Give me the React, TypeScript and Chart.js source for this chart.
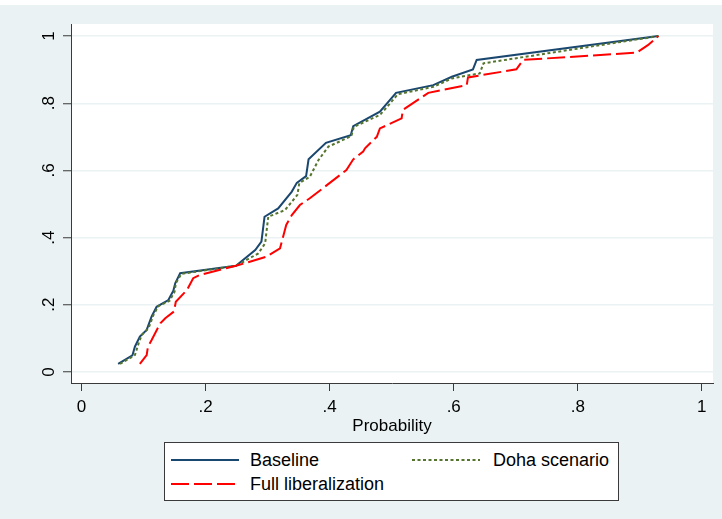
import React, { useEffect, useRef } from "react";
import { Chart, registerables } from "chart.js";

Chart.register(...registerables);

// ---- data ----
const seriesNames = ["Baseline", "Doha scenario", "Full liberalization"];
const xTitle = "Probability";
const xTicks = [0, 0.2, 0.4, 0.6, 0.8, 1];
const yTicks = [0, 0.2, 0.4, 0.6, 0.8, 1];

const baselineX = [0.059, 0.082, 0.086, 0.094, 0.105, 0.113, 0.121, 0.140, 0.148, 0.151, 0.159, 0.249, 0.280, 0.290, 0.295, 0.317, 0.339, 0.347, 0.362, 0.366, 0.394, 0.434, 0.438, 0.481, 0.507, 0.567, 0.597, 0.631, 0.637, 0.930];
const baselineY = [0.024, 0.049, 0.075, 0.105, 0.125, 0.165, 0.194, 0.214, 0.242, 0.264, 0.294, 0.316, 0.363, 0.388, 0.462, 0.487, 0.537, 0.563, 0.583, 0.633, 0.682, 0.705, 0.732, 0.775, 0.831, 0.854, 0.879, 0.901, 0.929, 1.0];

const dohaX = [0.062, 0.086, 0.092, 0.097, 0.108, 0.116, 0.124, 0.142, 0.150, 0.152, 0.161, 0.249, 0.261, 0.285, 0.296, 0.301, 0.328, 0.348, 0.351, 0.368, 0.382, 0.398, 0.435, 0.439, 0.481, 0.492, 0.510, 0.567, 0.597, 0.642, 0.648, 0.930];
const dohaY = [0.024, 0.050, 0.085, 0.110, 0.130, 0.170, 0.196, 0.212, 0.239, 0.264, 0.292, 0.316, 0.328, 0.353, 0.383, 0.462, 0.482, 0.527, 0.562, 0.581, 0.631, 0.671, 0.702, 0.730, 0.765, 0.788, 0.827, 0.849, 0.874, 0.889, 0.919, 1.0];

const fullX = [0.094, 0.105, 0.107, 0.113, 0.127, 0.135, 0.149, 0.152, 0.170, 0.180, 0.191, 0.249, 0.298, 0.320, 0.330, 0.339, 0.352, 0.368, 0.427, 0.438, 0.454, 0.457, 0.476, 0.481, 0.516, 0.518, 0.559, 0.621, 0.623, 0.701, 0.712, 0.895, 0.913, 0.930];
const fullY = [0.024, 0.050, 0.075, 0.095, 0.145, 0.160, 0.180, 0.209, 0.244, 0.279, 0.289, 0.316, 0.343, 0.368, 0.4375, 0.467, 0.497, 0.517, 0.601, 0.633, 0.656, 0.666, 0.700, 0.725, 0.755, 0.780, 0.831, 0.854, 0.877, 0.901, 0.929, 0.951, 0.973, 1.0];

// ---- styles ----
const NAVY = "#1a476f";
const GREEN = "#55752f";
const RED = "#ff0000";
const BG = "#eaf2f3";
const AXIS = "#3a3a3a";
const FONT = "'Liberation Sans', Arial, Helvetica, sans-serif";

const DOT_DASH = [3, 2.5];
const LONG_DASH = [18, 5];

function fmt(v: number): string {
  const r = Math.round(v * 10) / 10;
  if (r === 0) return "0";
  if (r === 1) return "1";
  return String(r).replace(/^0/, "");
}

function pts(xs: number[], ys: number[]) {
  return xs.map((x, i) => ({ x, y: ys[i] }));
}

const plotBg = {
  id: "plotBg",
  beforeDraw(chart: any) {
    const { ctx, chartArea } = chart;
    if (!chartArea) return;
    ctx.save();
    ctx.fillStyle = "#ffffff";
    ctx.fillRect(chartArea.left, chartArea.top, chartArea.right - chartArea.left, chartArea.bottom - chartArea.top);
    ctx.restore();
  },
};

function LegendLine({ color, dash }: { color: string; dash?: number[] }) {
  return (
    <svg width={68} height={4} style={{ display: "block" }}>
      <line x1={0} y1={2} x2={68} y2={2} stroke={color} strokeWidth={2} strokeDasharray={dash ? dash.join(" ") : undefined} />
    </svg>
  );
}

export default function App() {
  const ref = useRef<HTMLCanvasElement | null>(null);

  useEffect(() => {
    if (!ref.current) return;
    Chart.defaults.font.family = FONT;
    const chart = new Chart(ref.current, {
      type: "scatter",
      data: {
        datasets: [
          {
            label: seriesNames[0],
            data: pts(baselineX, baselineY),
            showLine: true,
            borderColor: NAVY,
            backgroundColor: NAVY,
            borderWidth: 2,
            pointRadius: 0,
            tension: 0,
            order: 3,
          },
          {
            label: seriesNames[1],
            data: pts(dohaX, dohaY),
            showLine: true,
            borderColor: GREEN,
            backgroundColor: GREEN,
            borderWidth: 2,
            borderDash: DOT_DASH,
            pointRadius: 0,
            tension: 0,
            order: 2,
          },
          {
            label: seriesNames[2],
            data: pts(fullX, fullY),
            showLine: true,
            borderColor: RED,
            backgroundColor: RED,
            borderWidth: 2,
            borderDash: LONG_DASH,
            pointRadius: 0,
            tension: 0,
            order: 1,
          },
        ],
      },
      options: {
        animation: false,
        responsive: false,
        devicePixelRatio: 1,
        events: [],
        layout: { padding: { left: 0, right: 9, top: 19, bottom: 0 } },
        plugins: {
          legend: { display: false },
          tooltip: { enabled: false },
        },
        scales: {
          x: {
            type: "linear",
            min: -0.017,
            max: 1.018,
            afterBuildTicks: (s: any) => {
              s.ticks = xTicks.map((v) => ({ value: v }));
            },
            afterFit: (s: any) => {
              s.height = 136;
            },
            ticks: {
              autoSkip: false,
              maxRotation: 0,
              minRotation: 0,
              padding: 6,
              color: "#000",
              font: { size: 17 },
              callback: (v: any) => fmt(Number(v)),
            },
            grid: {
              display: true,
              drawOnChartArea: false,
              drawTicks: true,
              tickLength: 8,
              tickColor: AXIS,
              tickWidth: 1,
            },
            border: { display: true, color: AXIS, width: 1 },
            title: {
              display: true,
              text: xTitle,
              color: "#000",
              font: { size: 17 },
              padding: { top: 0, bottom: 82 },
            },
          },
          y: {
            type: "linear",
            min: -0.033,
            max: 1.036,
            afterBuildTicks: (s: any) => {
              s.ticks = yTicks.map((v) => ({ value: v }));
            },
            afterFit: (s: any) => {
              s.width = 71;
            },
            ticks: {
              autoSkip: false,
              minRotation: 90,
              maxRotation: 90,
              crossAlign: "center",
              padding: 7,
              color: "#000",
              font: { size: 17 },
              callback: (v: any) => fmt(Number(v)),
            },
            grid: {
              display: true,
              drawOnChartArea: true,
              color: BG,
              lineWidth: 1.5,
              drawTicks: true,
              tickLength: 8,
              tickColor: AXIS,
              tickWidth: 1,
            },
            border: { display: true, color: AXIS, width: 1 },
          },
        },
      },
      plugins: [plotBg],
    } as any);
    return () => chart.destroy();
  }, []);

  const boxLeft = 164;
  const boxTop = 442;

  return (
    <div style={{ position: "fixed", left: 0, top: 0, width: 722, height: 519, background: "#ffffff", overflow: "hidden" }}>
      <div style={{ position: "absolute", left: 0, top: 5, width: 722, height: 514, background: BG }}>
        <canvas ref={ref} width={722} height={514} style={{ display: "block", width: 722, height: 514 }} />
      </div>
      <div
        style={{
          position: "absolute",
          left: boxLeft,
          top: boxTop,
          width: 455,
          height: 59,
          boxSizing: "border-box",
          border: `1px solid ${AXIS}`,
          background: "#ffffff",
          fontFamily: FONT,
          fontSize: 18,
          color: "#000",
        }}
      >
        <div style={{ position: "absolute", left: 171 - boxLeft - 1, top: 460 - boxTop - 3 }}>
          <LegendLine color={NAVY} />
        </div>
        <div style={{ position: "absolute", left: 250 - boxLeft - 1, top: 460 - boxTop - 11, lineHeight: "20px", whiteSpace: "nowrap" }}>
          {seriesNames[0]}
        </div>
        <div style={{ position: "absolute", left: 412 - boxLeft - 1, top: 460 - boxTop - 3 }}>
          <LegendLine color={GREEN} dash={DOT_DASH} />
        </div>
        <div style={{ position: "absolute", left: 493 - boxLeft - 1, top: 460 - boxTop - 11, lineHeight: "20px", whiteSpace: "nowrap" }}>
          {seriesNames[1]}
        </div>
        <div style={{ position: "absolute", left: 171 - boxLeft - 1, top: 484 - boxTop - 3 }}>
          <LegendLine color={RED} dash={LONG_DASH} />
        </div>
        <div style={{ position: "absolute", left: 250 - boxLeft - 1, top: 484 - boxTop - 11, lineHeight: "20px", whiteSpace: "nowrap" }}>
          {seriesNames[2]}
        </div>
      </div>
    </div>
  );
}
